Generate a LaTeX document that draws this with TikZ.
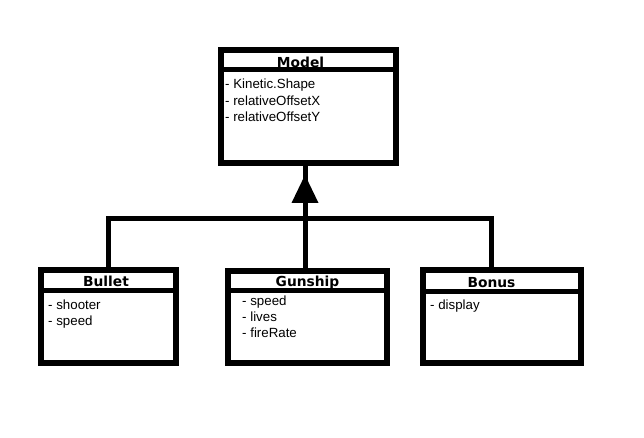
\documentclass[tikz,border=0pt]{standalone}
\usepackage{fontspec}
\setmainfont{Liberation Sans}
\newfontfamily\titlefont{DejaVu Sans}
\tikzset{
  classbox/.style={draw, line width=5.5pt, inner sep=0pt, rectangle, line join=miter},
  divider/.style={line width=5pt},
  conn/.style={line width=5pt, line join=miter},
  title/.style={font=\titlefont\bfseries\fontsize{13.8}{14}\selectfont, anchor=base, inner sep=0pt},
  attr/.style={font=\fontsize{13.3}{15}\selectfont, anchor=base west, inner sep=0pt},
}
\begin{document}
\begin{tikzpicture}[x=1pt,y=-1pt]
\useasboundingbox (0,0) rectangle (644,438);
% class boxes
\node[classbox, minimum width=175pt, minimum height=113pt] (model) at (308.5,106.5) {};
\node[classbox, minimum width=135pt, minimum height=93pt] (bullet) at (108.5,316.5) {};
\node[classbox, minimum width=159pt, minimum height=92pt] (gunship) at (307.5,317) {};
\node[classbox, minimum width=158pt, minimum height=93pt] (bonus) at (502,316.5) {};
% dividers
\draw[divider] ([yshift=-22.5pt]model.north west) -- ([yshift=-22.5pt]model.north east);
\draw[divider] ([yshift=-23.5pt]bullet.north west) -- ([yshift=-23.5pt]bullet.north east);
\draw[divider] ([yshift=-22.5pt]gunship.north west) -- ([yshift=-22.5pt]gunship.north east);
\draw[divider] ([yshift=-24pt]bonus.north west) -- ([yshift=-24pt]bonus.north east);
% titles
\node[title] (model-t) at (300.5,68) {Model};
\node[title] (bullet-t) at (106,286) {Bullet};
\node[title] (gunship-t) at (307.5,286) {Gunship};
\node[title] (bonus-t) at (491.5,287) {Bonus};
% attributes
\node[attr] (model-a1) at (225,89) {- Kinetic.Shape};
\node[attr] (model-a2) at (225,105.5) {- relativeOffsetX};
\node[attr] (model-a3) at (225,121.5) {- relativeOffsetY};
\node[attr] (bullet-a1) at (48,309) {- shooter};
\node[attr] (bullet-a2) at (48,325) {- speed};
\node[attr] (gunship-a1) at (242,305) {- speed};
\node[attr] (gunship-a2) at (242,321) {- lives};
\node[attr] (gunship-a3) at (242,337) {- fireRate};
\node[attr] (bonus-a1) at (430,309) {- display};
% inheritance connectors
\coordinate (jct) at (305,218.5);
\coordinate (tip) at (305,175);
\coordinate (bn) at ([xshift=-11pt]bonus.north);
\draw[conn] (bullet.north) |- (jct) -| (bn);
\draw[conn] (gunship.north -| jct) -- (tip);
\draw[conn] (tip) -- (model.south -| tip);
\fill (tip) -- ++(13.5,28) -- ++(-27,0) -- cycle;
\end{tikzpicture}
\end{document}
